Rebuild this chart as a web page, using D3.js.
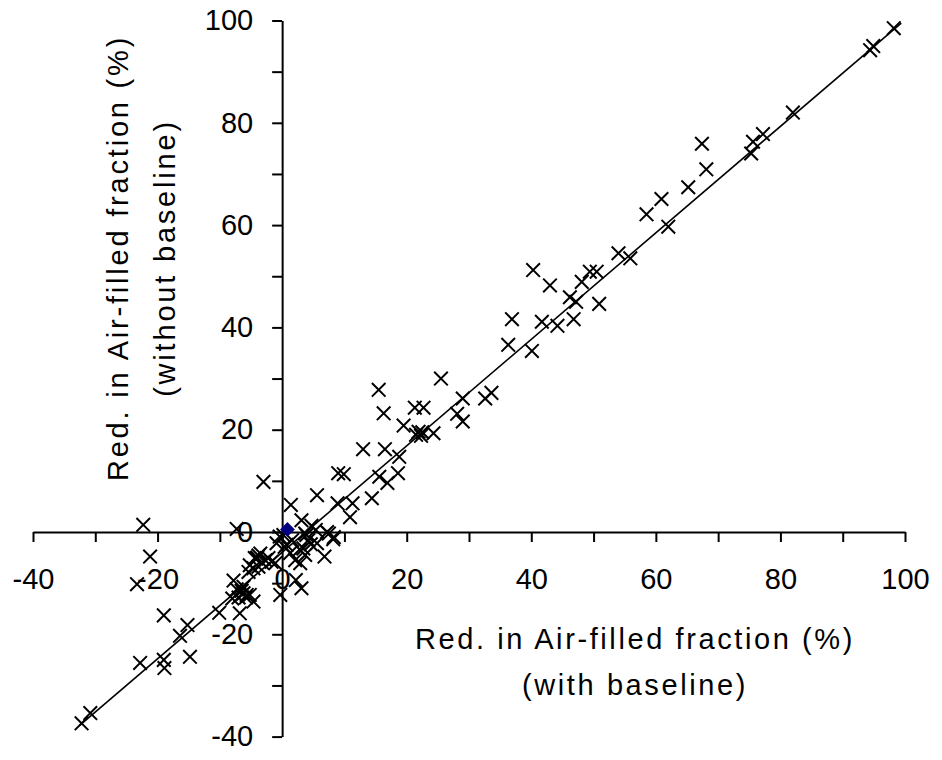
<!DOCTYPE html>
<html>
<head>
<meta charset="utf-8">
<script src="https://cdn.jsdelivr.net/npm/d3@7"></script>
<style>
  body { margin: 0; background: #fff; }
  text { font-family: "Liberation Sans", Arial, sans-serif; fill: #000; }
</style>
</head>
<body>
<div id="chart"></div>
<script>
// Red. in air-filled fraction (%), with baseline (x) vs without baseline (y)
const withBaseline = [
  98.2, 94.4, 94.9, 82.0, 77.2, 75.6, 75.3, 67.4, 68.1, 65.2, 60.9, 58.5, 62.0,
  54.0, 55.9, 40.3, 43.0, 49.4, 50.5, 48.1, 46.2, 47.2, 50.9, 36.9, 41.7, 44.2,
  46.8, 36.3, 40.1, 25.5, 29.0, 32.6, 33.6, 28.1, 29.0, 21.3, 22.7, 19.5, 21.9,
  21.5, 22.5, 22.3, 24.3, 15.5, 16.3, 16.5, 13.0, 18.8, 18.6, 15.6, 16.9, 14.4,
  9.0, 9.9, 5.6, -3.0, 1.4, 8.9, 11.3, 10.9, 3.1, 4.7, -7.3, -22.3, 7.2, 3.7,
  5.4, 8.2, 1.6, -0.4, 4.6, 2.8, 0.4, 6.8, 2.1, 3.7, 1.3, -0.9, -3.5, -2.7,
  -4.1, -1.7, -1.1, -4.6, -5.2, -3.2, 2.2, 3.1, -0.3, -7.8, -7.3, -6.2, -5.2,
  -4.6, -6.8, -10.1, -21.2, -23.3, -19.0, -15.2, -16.4, -22.8, -19.0, -18.9,
  -14.8, -30.8, -32.2, -6.5, -7.0, -4.0, 2.9, 5.6, 7.5, 0.2, 8.3, 3.4, -3.8,
  -2.2, -5.8, -8.0, 0.7, -5.4, -3.8, -4.4, -6.2, -5.7, 3.9, 4.2
];
const withoutBaseline = [
  98.5, 94.2, 95.0, 82.0, 77.8, 76.3, 74.0, 75.9, 70.9, 67.4, 65.1, 62.1, 59.7,
  54.5, 53.5, 51.2, 48.2, 50.9, 50.9, 48.9, 45.9, 45.0, 44.6, 41.6, 41.1, 40.3,
  41.6, 36.6, 35.4, 30.0, 26.1, 26.1, 27.2, 23.1, 21.6, 24.3, 24.3, 20.8, 19.6,
  19.0, 19.5, 18.8, 19.3, 27.8, 23.2, 16.2, 16.2, 14.7, 11.5, 10.8, 9.6, 6.6,
  11.5, 11.3, 7.2, 9.8, 5.3, 5.6, 5.6, 2.9, 2.3, 1.2, 0.6, 1.4, 0.0, -0.3,
  0.4, -1.4, -1.6, -0.9, -2.4, -3.4, -2.9, -4.8, -5.5, -4.5, -4.1, -2.2, -4.2,
  -5.5, -5.2, -5.8, -6.1, -7.1, -6.5, -6.0, -9.4, -11.0, -12.3, -9.5, -11.2,
  -12.0, -12.3, -13.6, -15.9, -15.8, -4.8, -10.2, -16.3, -18.2, -20.3, -25.6,
  -25.0, -26.6, -24.4, -35.4, -37.4, -11.5, -12.8, -5.0, -6.1, -2.2, -0.3,
  -0.6, -1.0, -3.2, -4.6, -5.1, -12.8, -13.0, -2.5, -7.8, -6.8, -5.1, -10.7,
  -12.3, -0.6, -1.6
];

// single point of the second series (blue diamond)
const refX = [0.85];
const refY = [0.5];

// fitted line end points
const trendX = [-32.6, 99.4];
const trendY = [-37.9, 99.5];

const xTicks = [-40, -30, -20, -10, 0, 10, 20, 30, 40, 50, 60, 70, 80, 90, 100];
const yTicks = [-40, -30, -20, -10, 0, 10, 20, 30, 40, 50, 60, 70, 80, 90, 100];
const xTitle = ['Red. in Air-filled fraction (%)', '(with baseline)'];
const yTitle = ['Red. in Air-filled fraction (%)', '(without baseline)'];

const config = {
  width: 942,
  height: 760,
  left: 33, right: 905,
  top: 20.5, bottom: 736.6,
  fontSize: 29
};

const svg = d3.select('#chart').append('svg')
  .attr('width', config.width)
  .attr('height', config.height);

const x = d3.scaleLinear().domain([-40, 100]).range([config.left, config.right]);
const y = d3.scaleLinear().domain([-40, 100]).range([config.bottom, config.top]);

// axes cross at the origin
const xAxis = d3.axisBottom(x)
  .tickValues(xTicks)
  .tickSize(10)
  .tickSizeOuter(0)
  .tickPadding(26)
  .tickFormat(d => d % 20 === 0 ? d : '');

const yAxis = d3.axisLeft(y)
  .tickValues(yTicks)
  .tickSize(10)
  .tickSizeOuter(0)
  .tickPadding(19)
  .tickFormat(d => d % 20 === 0 ? d : '');

const gx = svg.append('g')
  .attr('transform', `translate(0,${y(0)})`)
  .call(xAxis);

const gy = svg.append('g')
  .attr('transform', `translate(${x(0)},0)`)
  .call(yAxis);

[gx, gy].forEach(g => {
  g.attr('font-size', null).attr('font-family', null);
  g.selectAll('path, line').attr('stroke', '#000').attr('stroke-width', 2);
  g.selectAll('text')
    .style('font-size', config.fontSize + 'px')
    .style('font-family', '"Liberation Sans", Arial, sans-serif')
    .attr('fill', '#000');
});

// trend line
const line = d3.line().x(d => x(d[0])).y(d => y(d[1]));
svg.append('path')
  .datum(d3.zip(trendX, trendY))
  .attr('d', line)
  .attr('fill', 'none')
  .attr('stroke', '#000')
  .attr('stroke-width', 1.6);

// crosses
const points = d3.zip(withBaseline, withoutBaseline);
const r = 6.8;
svg.append('g')
  .selectAll('path')
  .data(points)
  .join('path')
  .attr('d', d => {
    const cx = x(d[0]), cy = y(d[1]);
    return `M${cx - r},${cy - r}L${cx + r},${cy + r}M${cx - r},${cy + r}L${cx + r},${cy - r}`;
  })
  .attr('fill', 'none')
  .attr('stroke', '#000')
  .attr('stroke-width', 2);

// navy diamond
svg.append('g')
  .selectAll('path')
  .data(d3.zip(refX, refY))
  .join('path')
  .attr('transform', d => `translate(${x(d[0])},${y(d[1])})`)
  .attr('d', d3.symbol(d3.symbolDiamond2, 140))
  .attr('fill', '#000080');

// axis titles
const xt = svg.append('text')
  .attr('text-anchor', 'middle')
  .style('font-size', config.fontSize + 'px')
  .style('letter-spacing', '2.6px');
xTitle.forEach((t, i) => {
  xt.append('tspan').attr('x', 635).attr('y', 649 + i * 46).text(t);
});

const yt = svg.append('text')
  .attr('text-anchor', 'middle')
  .attr('transform', 'translate(0,258) rotate(-90)')
  .style('font-size', config.fontSize + 'px')
  .style('letter-spacing', '2.8px');
yTitle.forEach((t, i) => {
  yt.append('tspan').attr('x', 0).attr('y', 128 + i * 47).text(t);
});
</script>
</body>
</html>
